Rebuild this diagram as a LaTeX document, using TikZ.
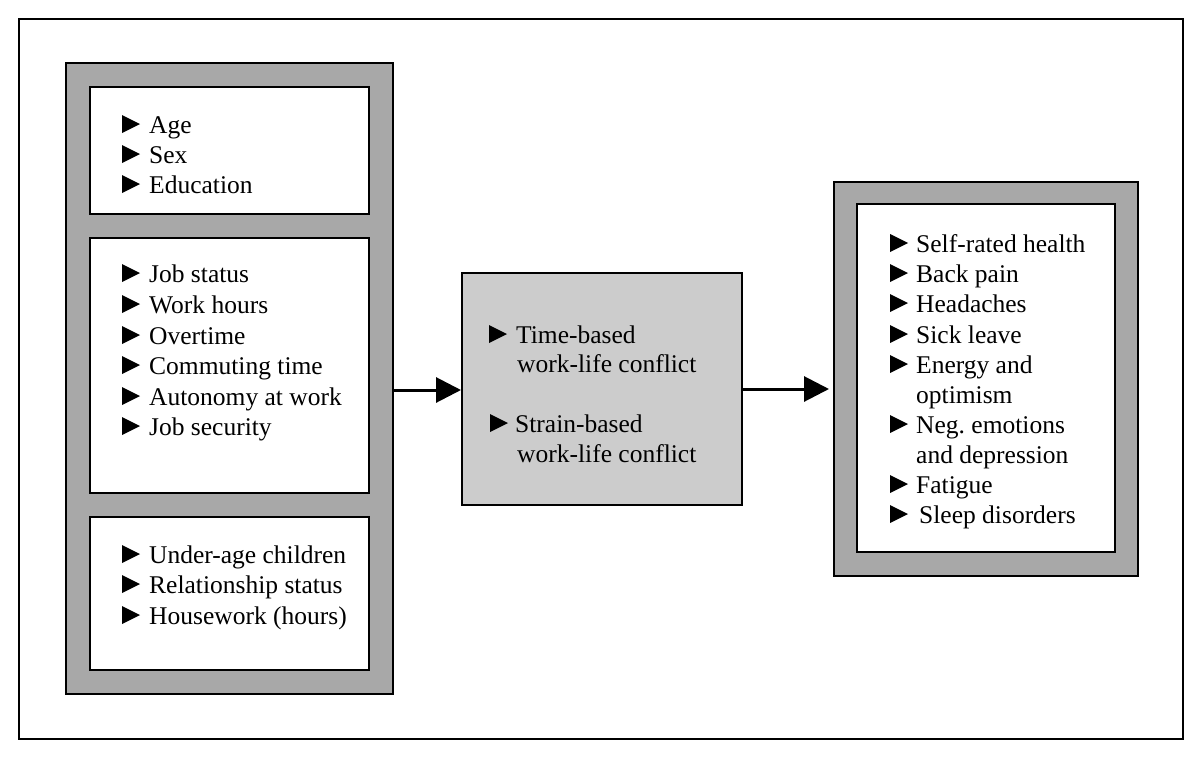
\documentclass[tikz,border=0pt]{standalone}
\usepackage{fontspec}
\setmainfont{Liberation Serif}
\usetikzlibrary{arrows.meta}
\definecolor{framegray}{HTML}{A8A8A8}
\definecolor{midgray}{HTML}{CCCCCC}
\tikzset{
  box/.style={draw=black, line width=2pt, inner sep=0pt, anchor=north west},
  item/.style={anchor=base west, inner sep=0pt, font=\fontsize{25.5}{30}\selectfont\frenchspacing},
  conn/.style={line width=3pt, -{Triangle[length=25pt,width=25pt]}},
}
\newcommand\tri[1]{\fill ([xshift=-27pt]#1.base west) -- ++(0,-18) -- ++(18,9) -- cycle;}
\begin{document}
\begin{tikzpicture}[x=1pt,y=-1pt]
\useasboundingbox (0,0) rectangle (1200,758);
% outer frame
\node[box, minimum width=1164pt, minimum height=720pt] (frame) at (18,18) {};
% left column
\node[box, fill=framegray, minimum width=327pt, minimum height=631pt] (left) at (65,62) {};
\node[box, fill=white, minimum width=279pt, minimum height=127pt] (l1) at (89,86) {};
\node[box, fill=white, minimum width=279pt, minimum height=255pt] (l2) at (89,237) {};
\node[box, fill=white, minimum width=279pt, minimum height=153pt] (l3) at (89,516) {};
% middle
\node[box, fill=midgray, minimum width=280pt, minimum height=232pt] (mid) at (461,272) {};
% right
\node[box, fill=framegray, minimum width=304pt, minimum height=394pt] (right) at (833,181) {};
\node[box, fill=white, minimum width=258pt, minimum height=348pt] (rin) at (856,203) {};
% connectors
\coordinate (a1) at (392,390);
\coordinate (a2) at (741,389);
\draw[conn] (left.east |- a1) -- (mid.west |- a1);
\draw[conn, shorten >=4pt] (mid.east |- a2) -- (right.west |- a2);
% left texts
\foreach \t/\y [count=\i] in {Age/133, Sex/163, Education/193} {
  \node[item] (p\i) at (149,\y) {\t};
  \tri{p\i}
}
\foreach \t/\y [count=\i] in {Job status/282, Work hours/313, Overtime/344, Commuting time/374, Autonomy at work/405, Job security/435} {
  \node[item] (q\i) at (149,\y) {\t};
  \tri{q\i}
}
\foreach \t/\y [count=\i] in {Under-age children/563, Relationship status/593, Housework (hours)/624} {
  \node[item] (r\i) at (149,\y) {\t};
  \tri{r\i}
}
% middle texts
\node[item] (m1) at (516,343) {Time-based};
\fill ([xshift=-27pt]m1.base west) -- ++(0,-18) -- ++(18,9) -- cycle;
\node[item] (m1b) at (517,372) {work-life conflict};
\node[item] (m2) at (515,432) {Strain-based};
\fill ([xshift=-25pt]m2.base west) -- ++(0,-18) -- ++(18,9) -- cycle;
\node[item] (m2b) at (517,462) {work-life conflict};
% right texts
\foreach \t/\y [count=\i] in {Self-rated health/252, Back pain/282, Headaches/312, Sick leave/343, Energy and/373, Neg. emotions/433, Fatigue/493} {
  \node[item] (s\i) at (916,\y) {\t};
  \fill ([xshift=-26pt]s\i.base west) -- ++(0,-18) -- ++(18,9) -- cycle;
}
\node[item] (s5b) at (916,403) {optimism};
\node[item] (s6b) at (916,463) {and depression};
\node[item] (s8) at (919,523) {Sleep disorders};
\fill ([xshift=-29pt]s8.base west) -- ++(0,-18) -- ++(18,9) -- cycle;
\end{tikzpicture}
\end{document}
